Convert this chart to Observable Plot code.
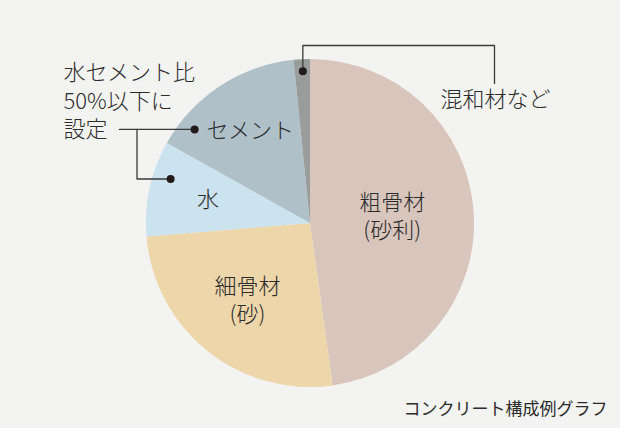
<!DOCTYPE html>
<html lang="ja">
<head>
<meta charset="utf-8">
<script src="https://cdn.jsdelivr.net/npm/d3@7"></script>
<script src="https://cdn.jsdelivr.net/npm/@observablehq/plot@0.6"></script>
<style>
  html, body { margin: 0; padding: 0; background: #f3f3f1; }
  #chart svg { display: block; }
</style>
</head>
<body>
<div id="chart"></div>
<script>
// ---- data ----
const names   = ["粗骨材", "細骨材", "水", "セメント", "混和材"];
const labels  = ["粗骨材\n(砂利)", "細骨材\n(砂)", "水", "セメント", ""];
const values  = [47.8, 25.9, 9.4, 15.3, 1.6];
const colors  = ["#d8c5bb", "#edd6a9", "#cbe2ef", "#afc0c9", "#989c9b"];
const noteLeft  = ["水セメント比", "50%以下に", "設定"];
const noteRight = "混和材など";
const caption   = "コンクリート構成例グラフ";

// ---- layout ----
const W = 620, H = 428;
const cx = 310, cy = 223, R = 164;
const labelRadius = [0.5, 0.615, 0.64, 0.67, 0];
const font = "'Noto Sans CJK JP', 'Noto Sans', sans-serif";

const pie = d3.pie().sort(null).startAngle(0).endAngle(2 * Math.PI)(values);
const slices = pie.map((p, i) => ({name: names[i], label: labels[i], color: colors[i], a0: p.startAngle, a1: p.endAngle, mid: (p.startAngle + p.endAngle) / 2}));
const polar = (a, r) => [cx + r * Math.sin(a), cy - r * Math.cos(a)];

const labelData = slices.filter((s) => s.label).map((s) => {
  const i = names.indexOf(s.name);
  const [x, y] = polar(s.mid, labelRadius[i] * R);
  return {x, y, text: s.label};
});

// leader lines anchored on slices
const sAdd = slices[4], sCem = slices[3], sWat = slices[2];
const dotAdd = polar(sAdd.mid, 0.93 * R);
const dotCem = polar(sCem.a0 + 0.18 * (sCem.a1 - sCem.a0), 0.91 * R);
const dotWat = polar(sWat.a0 + 0.66 * (sWat.a1 - sWat.a0), 0.895 * R);
const leaderAdd = [dotAdd, [dotAdd[0], 45], [494, 45], [494, 83]].map(([x, y]) => ({x, y, g: "add"}));
const leaderCem = [[119, dotCem[1]], dotCem].map(([x, y]) => ({x, y, g: "cem"}));
const leaderWat = [[136.5, dotCem[1]], [136.5, dotWat[1]], dotWat].map(([x, y]) => ({x, y, g: "wat"}));
const dots = [dotAdd, dotCem, dotWat].map(([x, y]) => ({x, y}));

function pieMark(index, scales) {
  const x0 = scales.x(cx), y0 = scales.y(cy);
  const r = scales.x(cx + R) - x0;
  const arc = d3.arc().innerRadius(0).outerRadius(r);
  const g = d3.create("svg:g").attr("transform", `translate(${x0},${y0})`);
  g.selectAll("path").data(slices).join("path")
    .attr("d", d => arc({startAngle: d.a0, endAngle: d.a1}))
    .attr("fill", d => d.color);
  return g.node();
}

const chart = Plot.plot({
  width: W, height: H, margin: 0,
  x: {domain: [0, W], range: [0, W], axis: null},
  y: {domain: [0, H], range: [0, H], axis: null},
  style: {background: "#f3f3f1", fontFamily: font},
  marks: [
    pieMark,
    Plot.text(labelData, {x: "x", y: "y", dy: -3, text: "text", fontSize: 22, lineHeight: 1.27, fill: "#2b2b2b", fontWeight: 300}),
    Plot.line([...leaderAdd, ...leaderCem, ...leaderWat], {x: "x", y: "y", z: "g", stroke: "#3a3a3a", strokeWidth: 1.3}),
    Plot.dot(dots, {x: "x", y: "y", r: 4, fill: "#231a1a", stroke: null}),
    Plot.text([noteRight], {x: [440], y: [99], text: d => d, textAnchor: "start", fontSize: 22, fill: "#2b2b2b", fontWeight: 300}),
    Plot.text(noteLeft, {x: noteLeft.map(() => 63), y: noteLeft.map((d, i) => 72.5 + i * 28.5), text: d => d, textAnchor: "start", fontSize: 22, fill: "#2b2b2b", fontWeight: 300}),
    Plot.text([caption], {x: [607], y: [409], text: d => d, textAnchor: "end", fontSize: 17, fill: "#2b2b2b"})
  ]
});
document.getElementById("chart").appendChild(chart);
</script>
</body>
</html>
